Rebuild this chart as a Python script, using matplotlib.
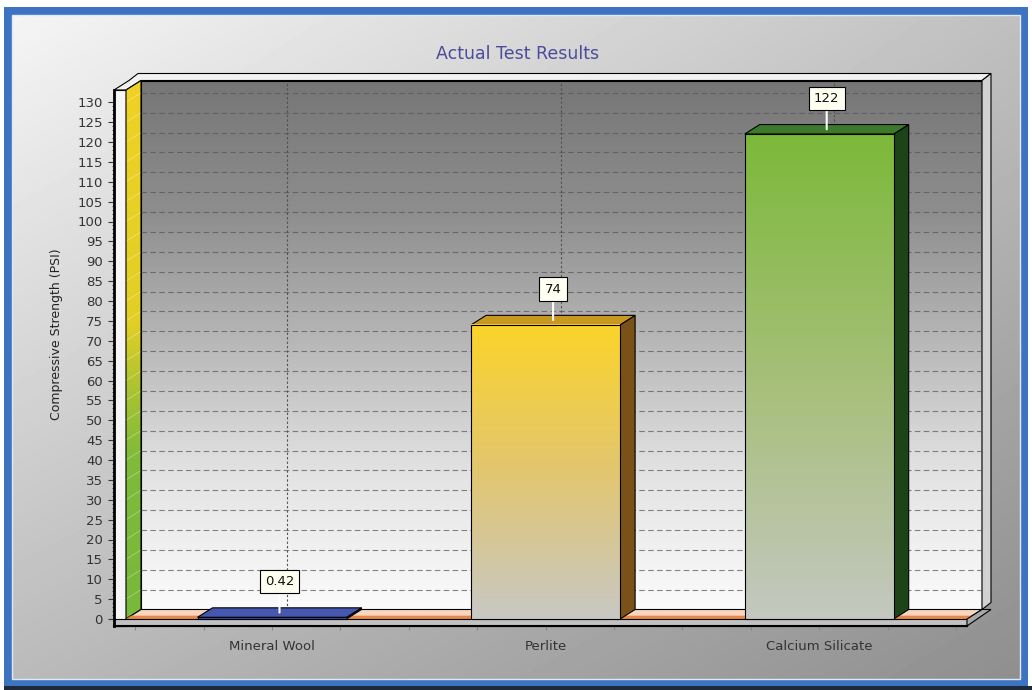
import numpy as np
import matplotlib.pyplot as plt
from matplotlib.patches import Polygon, Rectangle
from matplotlib.colors import LinearSegmentedColormap
from matplotlib.ticker import FixedLocator

# data
categories = ['Mineral Wool', 'Perlite', 'Calcium Silicate']
values = [0.42, 74, 122]
value_labels = ['0.42', '74', '122']
y_ticks = list(range(0, 135, 5))

# bar colours: front gradient (bottom, mid, top), top face, side face
bar_bottom = ['#3b4fa6', '#c8c8c4', '#c4c8c0']
bar_mid = ['#3b4fa6', '#e2c670', '#a6bf78']
bar_top = ['#3b4fa6', '#fbd42a', '#7cb93a']
bar_cap = ['#4557b0', '#c8981f', '#3c7a2b']
bar_side = ['#27357c', '#7a5218', '#1c4418']

W, H = 1032, 690
fig = plt.figure(figsize=(W / 100, H / 100), dpi=100)
fig.patch.set_facecolor('white')

# background + blue frame (pixel coords)
bg = fig.add_axes([0, 0, 1, 1])
bg.axis('off')
bg.add_patch(Rectangle((4, 7), 1024, 680, fc='#3d74c2', ec='none', zorder=0))
bg.add_patch(Rectangle((4, 686), 1028, 4, fc='#1e2a3a', ec='none', zorder=0))
yy, xx = np.mgrid[0:1:200j, 0:1:300j]
shade = 0.96 * (1 - xx) * (1 - yy) + 0.75 * xx * (1 - yy) + 0.73 * (1 - xx) * yy + 0.56 * xx * yy
bg.imshow(shade, cmap='gray', vmin=0, vmax=1, extent=(12, 1020, 679, 15),
          aspect='auto', interpolation='bilinear', zorder=1)
bg.add_patch(Rectangle((12, 15), 1008, 664, fill=False, ec='#dfe8f5', lw=1, zorder=2))
bg.set_xlim(0, W)
bg.set_ylim(H, 0)

# main axes: x in category units, y in value units
ax = fig.add_axes([0, 0, 1, 1], facecolor='none')
X0, XS, Y0, YS = 272, 273.6, 619, 3.975
xlim = (-X0 / XS, (W - X0) / XS)
ylim = ((Y0 - H) / YS, Y0 / YS)

DX, DY = 15 / XS, 9.5 / YS          # depth of bars / floor
WX, WY = 9 / XS, 7 / YS             # back wall thickness
FT = 7 / YS                         # floor slab thickness
XL, XLW, XR = (114 - X0) / XS, (126 - X0) / XS, (967 - X0) / XS
YTOP = (Y0 - 90) / YS
BW = 149 / XS


def face(pts, fc, z, ec='black', lw=0.8):
    p = Polygon(pts, closed=True, fc=fc, ec=ec, lw=lw, zorder=z)
    ax.add_patch(p)
    return p


def vgrad(x0, x1, y0, y1, colors, z, clip=None):
    cm = LinearSegmentedColormap.from_list('g', colors)
    g = np.linspace(0, 1, 256).reshape(-1, 1)
    im = ax.imshow(g, cmap=cm, extent=(x0, x1, y0, y1), origin='lower',
                   aspect='auto', zorder=z, interpolation='bilinear')
    if clip is not None:
        im.set_clip_path(clip)


# back wall
vgrad(XLW + DX, XR + DX, DY, YTOP + DY,
      ['#fbfbfb', '#e4e4e4', '#b8b8b8', '#8e8e8e', '#767676'], 1)
face([(XLW + DX, DY), (XR + DX, DY), (XR + DX, YTOP + DY), (XLW + DX, YTOP + DY)], 'none', 1.1)
face([(XL, YTOP), (XLW, YTOP), (XLW + DX, YTOP + DY), (XR + DX, YTOP + DY),
      (XR + DX + WX, YTOP + DY + WY), (XL + DX + WX, YTOP + DY + WY), (XL + DX, YTOP + DY)],
     '#f2f2f2', 1.2)
face([(XR + DX, DY), (XR + DX + WX, DY + WY), (XR + DX + WX, YTOP + DY + WY), (XR + DX, YTOP + DY)],
     '#d2d2d2', 1.2)

# left wall
face([(XL, -FT), (XLW, -FT), (XLW, YTOP), (XL, YTOP)], '#f6f6f6', 1.3)
lw_face = face([(XLW, 0), (XLW + DX, DY), (XLW + DX, YTOP + DY), (XLW, YTOP)], 'none', 1.5)
vgrad(XLW, XLW + DX, 0, YTOP + DY,
      [(0, '#78b83c'), (0.3, '#80bb3a'), (0.42, '#a8c332'), (0.55, '#e2cf26'), (1, '#efd224')],
      1.4, clip=lw_face)
for v in y_ticks:
    ax.plot([XLW, XLW + DX], [v, v + DY], color='white', lw=0.6, alpha=0.35, zorder=1.45)

# grid on back wall
for v in y_ticks[1:]:
    ax.plot([XLW + DX, XR + DX], [v + DY, v + DY], color='#555555', lw=0.8,
            alpha=0.7, dashes=(5, 3), zorder=2)
for i in range(len(categories)):
    ax.plot([i + DX, i + DX], [DY, YTOP + DY], color='#505050', lw=0.8,
            dashes=(2, 2), zorder=2)

# floor
face([(XLW, 0), (XR, 0), (XR + DX, DY), (XLW + DX, DY)], '#f9d6bd', 3)
face([(XLW, 0), (XR, 0), (XR + DX * 0.35, DY * 0.35), (XLW + DX * 0.35, DY * 0.35)],
     '#e9874a', 3.1, ec='none')
face([(XL, -FT), (XR, -FT), (XR, 0), (XL, 0)], '#c2c2c2', 3.2)
face([(XR, -FT), (XR, 0), (XR + DX, DY), (XR + DX + WX, DY + WY - FT)], '#a8a8a8', 3.2)

# bars
for i, v in enumerate(values):
    x0, x1 = i - BW / 2, i + BW / 2
    face([(x1, 0), (x1 + DX, DY), (x1 + DX, v + DY), (x1, v)], bar_side[i], 5)
    face([(x0, v), (x1, v), (x1 + DX, v + DY), (x0 + DX, v + DY)], bar_cap[i], 5)
    vgrad(x0, x1, 0, v, [bar_bottom[i], bar_mid[i], bar_top[i]], 5.1)
    face([(x0, 0), (x1, 0), (x1, v), (x0, v)], 'none', 5.2)
    ax.annotate(value_labels[i], xy=(i + DX / 2, v + DY / 2), xytext=(0, 31),
                textcoords='offset pixels', ha='center', va='center', fontsize=9.5,
                color='#111111', zorder=6,
                bbox=dict(boxstyle='square,pad=0.4', fc='#fffff2', ec='black', lw=0.8),
                arrowprops=dict(arrowstyle='-', color='white', lw=1.5,
                                shrinkA=0, shrinkB=0))

ax.set_xlim(*xlim)
ax.set_ylim(*ylim)

# axes
for s in ['top', 'right']:
    ax.spines[s].set_visible(False)
ax.spines['left'].set_position(('data', XL))
ax.spines['left'].set_bounds(-FT, YTOP)
ax.spines['left'].set_linewidth(2)
ax.spines['left'].set_zorder(4)
ax.spines['bottom'].set_position(('data', -FT))
ax.spines['bottom'].set_bounds(XL, XR)
ax.spines['bottom'].set_linewidth(1.5)
ax.spines['bottom'].set_zorder(4)

ax.set_yticks(y_ticks)
ax.yaxis.set_minor_locator(FixedLocator(np.arange(0, 131, 1)))
ax.tick_params(axis='y', which='major', length=4, width=0.8, colors='#333333',
               labelsize=9.5, pad=4)
ax.tick_params(axis='y', which='minor', length=1.5, width=0.6, color='#333333')

ax.set_xticks(range(len(categories)), categories)
ax.xaxis.set_minor_locator(FixedLocator(np.arange(-0.5, 2.51, 0.25)))
ax.tick_params(axis='x', which='both', length=3, width=0.8, color='#888888',
               labelsize=9.5, labelcolor='#333333', pad=7)

ax.set_ylabel('Compressive Strength (PSI)', fontsize=9, color='#222222')
ax.yaxis.set_label_coords(63 / W, 1 - 334 / H)

fig.text(518 / W, 1 - 54 / H, 'Actual Test Results', ha='center', va='center',
         fontsize=12.5, color='#4b4b9b')

fig.savefig('out.png', dpi=100)
